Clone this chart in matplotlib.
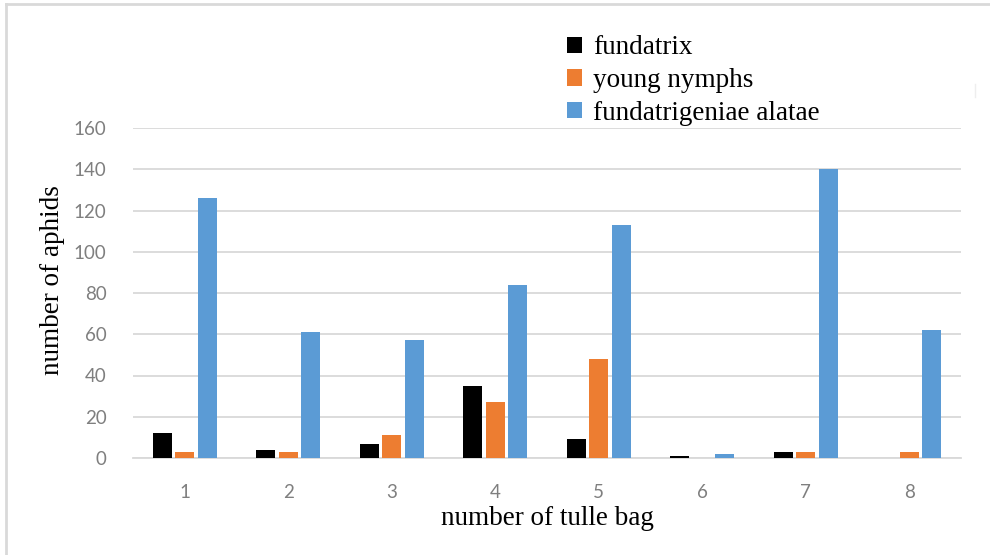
import matplotlib
matplotlib.use("Agg")
import matplotlib.pyplot as plt
import numpy as np
from matplotlib.patches import Patch
from matplotlib.lines import Line2D

categories = ["1", "2", "3", "4", "5", "6", "7", "8"]
fundatrix = [12, 4, 7, 35, 9, 1, 3, 0]
young_nymphs = [3, 3, 11, 27, 48, 0, 3, 3]
alatae = [126, 61, 57, 84, 113, 2, 140, 62]
series_names = ["fundatrix", "young nymphs", "fundatrigeniae alatae"]
colors = ["#000000", "#ED7D31", "#5B9BD5"]
yticks = [0, 20, 40, 60, 80, 100, 120, 140, 160]

fig = plt.figure(figsize=(9.9, 5.55), dpi=100)
ax = fig.add_axes([133/990, 1-458/555, (961-133)/990, (458-128)/555])

x = np.arange(len(categories))
w = 0.18
off = 0.218
for i, (vals, c) in enumerate(zip([fundatrix, young_nymphs, alatae], colors)):
    ax.bar(x + (i-1)*off, vals, width=w, color=c, edgecolor="none", zorder=3, label=series_names[i])

ax.set_xlim(-0.5, 7.5)
ax.set_ylim(0, 160)
ax.set_yticks(yticks)
ax.set_xticks(x)
ax.set_xticklabels(categories)
ax.grid(axis="y", color="#d9d9d9", linewidth=1.3, zorder=0)
for s in ["top", "right", "left"]:
    ax.spines[s].set_visible(False)
ax.spines["bottom"].set_color("#d9d9d9")
ax.spines["bottom"].set_linewidth(1.3)
ax.tick_params(axis="both", length=0, labelsize=13.5, labelcolor="#7f7f7f")
for t in ax.get_xticklabels() + ax.get_yticklabels():
    t.set_fontfamily("Lato")
ax.tick_params(axis="y", pad=19)
ax.tick_params(axis="x", pad=19)

ax.set_xlabel("number of tulle bag", fontfamily="Liberation Serif", fontsize=19.5, labelpad=3)
ax.set_ylabel("number of aphids", fontfamily="Liberation Serif", fontsize=19.5)
ax.yaxis.set_label_coords(-0.082, 0.54)

handles = [Patch(facecolor=c, edgecolor="none") for c in colors]
leg = fig.legend(handles, series_names, loc="upper left", bbox_to_anchor=(543/990, 1-11/555),
                 frameon=False, prop={"family": "Liberation Serif", "size": 19.5},
                 handlelength=0.55, handleheight=0.55, handletextpad=0.4, labelspacing=0.28)

# outer frame
fig.add_artist(Line2D([6/990, 6/990], [0, 1-4/555], color="#d9d9d9", linewidth=2, transform=fig.transFigure))
fig.add_artist(Line2D([6/990, 1], [1-4/555, 1-4/555], color="#d9d9d9", linewidth=2, transform=fig.transFigure))
fig.add_artist(Line2D([975/990, 975/990], [1-84/555, 1-97/555], color="#eeeeee", linewidth=1, transform=fig.transFigure))

fig.savefig("out.png", dpi=100)
